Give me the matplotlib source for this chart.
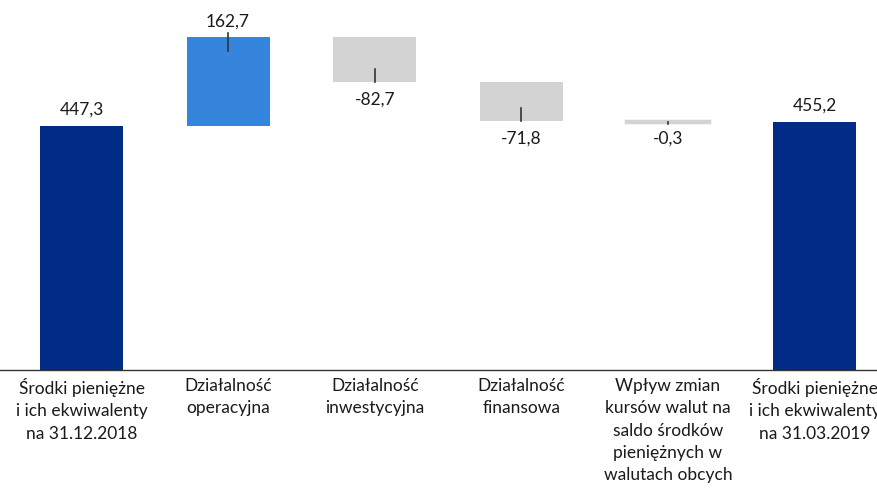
import numpy as np
import matplotlib.pyplot as plt

plt.rcParams['font.family'] = ['Lato', 'DejaVu Sans']

categories = ['Środki pieniężne\ni ich ekwiwalenty\nna 31.12.2018',
              'Działalność\noperacyjna',
              'Działalność\ninwestycyjna',
              'Działalność\nfinansowa',
              'Wpływ zmian\nkursów walut na\nsaldo środków\npieniężnych w\nwalutach obcych',
              'Środki pieniężne\ni ich ekwiwalenty\nna 31.03.2019']
start_value = 447.3
changes = [162.7, -82.7, -71.8, -0.3]
end_value = 455.2
value_labels = ['447,3', '162,7', '-82,7', '-71,8', '-0,3', '455,2']

navy = '#002C86'
blue = '#3685DD'
grey = '#D3D3D3'

# bottoms and heights of the floating bars
bottoms = [0]
heights = [start_value]
colors = [navy]
level = start_value
for c in changes:
    if c >= 0:
        bottoms.append(level)
        colors.append(blue)
    else:
        bottoms.append(level + c)
        colors.append(grey)
    heights.append(abs(c))
    level += c
bottoms.append(0)
heights.append(end_value)
colors.append(navy)

fig = plt.figure(figsize=(8.77, 4.91), dpi=100)
ax = fig.add_axes([0, 0.2464, 1, 0.7536])

x = np.arange(len(categories))
# very small bars get an outline so they stay visible (as in the original)
edge_w = [2.5 if h < 2 else 0 for h in heights]
ax.bar(x, heights, bottom=bottoms, width=0.566, color=colors,
       edgecolor=colors, linewidth=edge_w, zorder=2)

# labels with short leader lines
signs = [1] + [1 if c >= 0 else -1 for c in changes] + [1]
for i in range(len(x)):
    top = bottoms[i] + heights[i]
    if signs[i] > 0:
        ax.text(x[i], top + 29, value_labels[i], ha='center', va='center', fontsize=12.5, color='#1a1a1a')
        if 0 < i < len(x) - 1:
            ax.plot([x[i], x[i]], [top + 7, top - 26], color='#333333', lw=1.2, zorder=3)
    else:
        bot = bottoms[i]
        ax.text(x[i], bot - 31, value_labels[i], ha='center', va='center', fontsize=12.5, color='#1a1a1a')
        if heights[i] > 5:
            ax.plot([x[i], x[i]], [bot + 24, bot + 1], color='#333333', lw=1.2, zorder=3)
        else:
            ax.plot([x[i], x[i]], [bot - 1, bot - 5], color='#333333', lw=1.2, zorder=3)

ax.set_xlim(-0.556, 5.426)
ax.set_ylim(0, 678)
ax.set_xticks(x)
ax.set_xticklabels(categories, fontsize=12.5, color='#1a1a1a', linespacing=1.47)
ax.tick_params(axis='x', length=0, pad=6)
ax.set_yticks([])
for s in ['top', 'right', 'left']:
    ax.spines[s].set_visible(False)
ax.spines['bottom'].set_color('#333333')
ax.spines['bottom'].set_linewidth(1)
ax.spines['bottom'].set_zorder(3)

fig.savefig('out.png', dpi=100)
